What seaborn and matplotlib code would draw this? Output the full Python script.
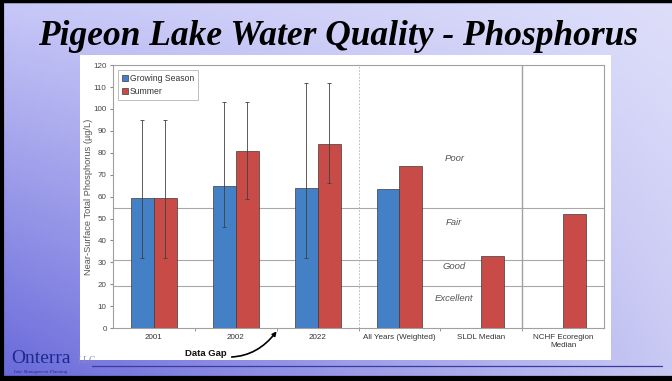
import numpy as np
import pandas as pd
import seaborn as sns
import matplotlib.pyplot as plt
from matplotlib.patches import Rectangle
from matplotlib.lines import Line2D

# data
categories = ["2001", "2002", "2022", "All Years (Weighted)", "SLDL Median", "NCHF Ecoregion\nMedian"]
series_names = ["Growing Season", "Summer"]
growing_season = [59.5, 65, 64, 63.5, np.nan, np.nan]
summer = [59.5, 81, 84, 74, 33, 52]

# error bar ranges (first three years only)
gs_low = [32, 46, 32]
gs_high = [95, 103, 112]
su_low = [32, 59, 66]
su_high = [95, 103, 112]

# trophic class boundaries and labels
class_bounds = [55, 31, 19]
class_labels = ["Poor", "Fair", "Good", "Excellent"]
class_label_y = [77.5, 48, 28, 13.5]
class_label_x = 3.67

df = pd.DataFrame({
    "category": categories * 2,
    "value": growing_season + summer,
    "series": [series_names[0]] * len(categories) + [series_names[1]] * len(categories),
})

sns.set_style("white")
plt.rcParams["font.family"] = ["Liberation Sans", "DejaVu Sans"]

fig = plt.figure(figsize=(6.72, 3.81), dpi=100)

# slide background gradient
bg = fig.add_axes([0, 0, 1, 1], zorder=0)
h, w = 100, 200
yy, xx = np.mgrid[0:1:h * 1j, 0:1:w * 1j]
tl = np.array([200, 200, 248]) / 255
tr = np.array([222, 222, 250]) / 255
bl = np.array([104, 104, 218]) / 255
br = np.array([200, 200, 244]) / 255
img = ((1 - xx)[..., None] * (1 - yy)[..., None] * tl + xx[..., None] * (1 - yy)[..., None] * tr
       + (1 - xx)[..., None] * yy[..., None] * bl + xx[..., None] * yy[..., None] * br)
bg.imshow(img, aspect="auto", extent=[0, 1, 0, 1], origin="upper")
bg.set_xlim(0, 1)
bg.set_ylim(0, 1)
bg.axis("off")

# white chart panel
bg.add_patch(Rectangle((0.119, 0.055), 0.79, 0.80, facecolor="white", edgecolor="none"))

# slide border and footer line
bg.add_line(Line2D([0, 1], [0.997, 0.997], color="black", lw=2.5))
bg.add_line(Line2D([0.003, 0.003], [0, 1], color="black", lw=3))
bg.add_line(Line2D([0, 1], [0.006, 0.006], color="black", lw=4.5))
bg.add_line(Line2D([0.137, 0.985], [0.039, 0.039], color="#3a3aa0", lw=0.9))

# title
fig.text(0.503, 0.905, "Pigeon Lake Water Quality - Phosphorus", ha="center", va="center",
         fontsize=25.5, fontweight="bold", fontstyle="italic", family="Liberation Serif", color="black")

# logo
fig.text(0.016, 0.048, "Onterra", fontsize=14, family="Liberation Serif", color="#1e2a8c", va="baseline")
fig.text(0.115, 0.048, "LLC", fontsize=7, family="Liberation Serif", color="#8a8ac0", va="baseline")
fig.text(0.019, 0.022, "Lake Management Planning", fontsize=3.4, fontstyle="italic",
         family="Liberation Serif", color="#1e2a8c", va="baseline")

ax = fig.add_axes([0.168, 0.139, 0.731, 0.690], zorder=2)
sns.barplot(data=df, x="category", y="value", hue="series", order=categories,
            hue_order=series_names, palette=["#4480c6", "#c84b47"], saturation=1,
            width=0.56, errorbar=None, edgecolor="#3a3a3a", linewidth=0.5, ax=ax, zorder=3)

# error bars at the bar centres
for cont, lo, hi in zip(ax.containers, [gs_low, su_low], [gs_high, su_high]):
    bars = list(cont)[:3]
    xs = [b.get_x() + b.get_width() / 2 for b in bars]
    vals = np.array([b.get_height() for b in bars])
    ax.errorbar(xs, vals, yerr=[vals - np.array(lo), np.array(hi) - vals], fmt="none",
                ecolor="#404040", elinewidth=0.6, capsize=1.6, capthick=0.6, zorder=4)

for b in class_bounds:
    ax.axhline(b, color="#a8a8a8", lw=0.8, zorder=1)
ax.axvline(2.5, color="#b0b0b0", lw=0.6, ls=(0, (2, 2)), zorder=1)
ax.axvline(4.5, color="#a0a0a0", lw=1.0, zorder=1)

for lab, y in zip(class_labels, class_label_y):
    ax.text(class_label_x, y, lab, ha="center", va="center", fontsize=6.8, fontstyle="italic", color="#555555")

ax.set_ylim(0, 120)
ax.set_xlim(-0.5, 5.5)
ax.set_yticks(range(0, 121, 10))
ax.set_xticks(range(len(categories)))
ax.set_xticks(np.arange(0.5, 5.5, 1), minor=True)
ax.tick_params(axis="x", which="major", length=0, labelsize=5.8, labelcolor="#333333", pad=4)
ax.tick_params(axis="x", which="minor", length=2, color="#888888", bottom=True)
ax.tick_params(axis="y", length=2, color="#888888", labelsize=5.8, labelcolor="#444444", left=True, pad=2.5)
ax.set_xlabel("")
ax.set_ylabel("Near-Surface Total Phosphorus (µg/L)", fontsize=6.7, color="#555555", labelpad=0.5)
for s in ax.spines.values():
    s.set_color("#a0a0a0")
    s.set_linewidth(0.8)

leg = ax.legend(loc="upper left", fontsize=6.2, frameon=True, fancybox=False, edgecolor="#a0a0a0",
                handlelength=0.7, handleheight=0.7, handletextpad=0.3, borderpad=0.4,
                labelspacing=0.5, borderaxespad=0.6)
leg.get_frame().set_linewidth(0.6)
for t in leg.get_texts():
    t.set_color("#333333")

ax.annotate("Data Gap", xy=(1.5, -1.5), xytext=(0.64, -11.5), annotation_clip=False,
            ha="center", va="center", fontsize=6.8, fontweight="bold", color="#111111",
            arrowprops=dict(arrowstyle="-|>", color="black", lw=1.2, mutation_scale=6,
                            connectionstyle="arc3,rad=0.35", shrinkA=1, shrinkB=0))

fig.savefig("out.png", dpi=100)
